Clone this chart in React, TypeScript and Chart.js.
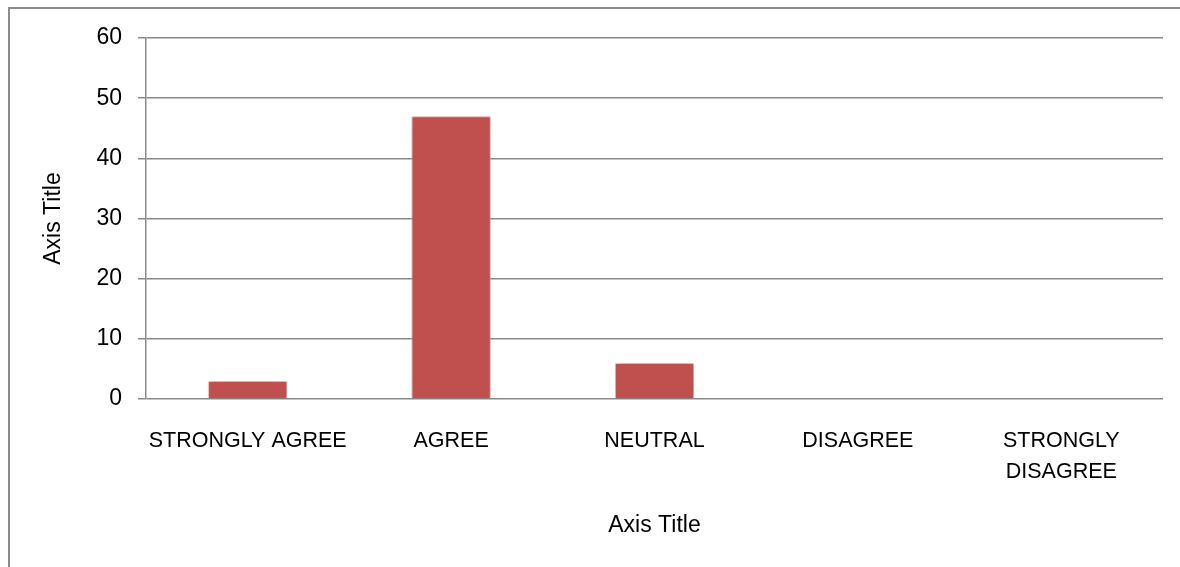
import React, { useEffect, useRef } from "react";
import { Chart, registerables } from "chart.js";

Chart.register(...registerables);

const categories: (string | string[])[] = [
  "STRONGLY AGREE",
  "AGREE",
  "NEUTRAL",
  "DISAGREE",
  ["STRONGLY", "DISAGREE"],
];
const values: number[] = [3, 47, 6, 0, 0];
const yTitle = "Axis Title";
const xTitle = "Axis Title";
const yMin = 0;
const yMax = 60;
const yStep = 10;

const FONT = "'Liberation Sans', Arial, sans-serif";

const framePlugin = {
  id: "frame",
  beforeDraw(chart: any) {
    const ctx = chart.ctx;
    ctx.save();
    ctx.fillStyle = "#ffffff";
    ctx.fillRect(0, 0, chart.width, chart.height);
    ctx.strokeStyle = "#8c8c8c";
    ctx.lineWidth = 2;
    ctx.beginPath();
    ctx.moveTo(9, chart.height + 5);
    ctx.lineTo(9, 8);
    ctx.lineTo(chart.width + 5, 8);
    ctx.stroke();
    ctx.restore();
  },
};

const shadowPlugin = {
  id: "barShadow",
  beforeDatasetDraw(chart: any) {
    const ctx = chart.ctx;
    ctx.save();
    ctx.shadowColor = "rgba(0,0,0,0.35)";
    ctx.shadowBlur = 6;
    ctx.shadowOffsetX = 1;
    ctx.shadowOffsetY = 0;
  },
  afterDatasetDraw(chart: any) {
    chart.ctx.restore();
  },
};

export default function App() {
  const ref = useRef<HTMLCanvasElement | null>(null);

  useEffect(() => {
    if (!ref.current) return;
    const chart = new Chart(ref.current, {
      type: "bar",
      data: {
        labels: categories,
        datasets: [
          {
            data: values,
            backgroundColor: "#C0504D",
            borderColor: "#f4dcdb",
            borderWidth: 1,
            barPercentage: 0.39,
            categoryPercentage: 1,
          },
        ],
      },
      options: {
        responsive: false,
        animation: false,
        layout: { padding: { top: 38, right: 17, left: 0, bottom: 0 } },
        plugins: {
          legend: { display: false },
          tooltip: { enabled: false },
        },
        scales: {
          x: {
            grid: { display: false, drawTicks: false, tickLength: 0 },
            border: { display: false },
            ticks: {
              color: "#000",
              font: { family: FONT, size: 21.5, lineHeight: 1.45 },
              padding: 26,
              maxRotation: 0,
              autoSkip: false,
            },
            title: {
              display: true,
              text: xTitle,
              color: "#000",
              font: { family: FONT, size: 23 },
              padding: { top: 0, bottom: 28 },
            },
            afterFit(scale: any) {
              scale.height = 168;
            },
          },
          y: {
            min: yMin,
            max: yMax,
            ticks: {
              stepSize: yStep,
              color: "#000",
              font: { family: FONT, size: 23 },
              padding: 16,
            },
            grid: {
              color: "#8a8a8a",
              lineWidth: 1.5,
              tickLength: 8,
              drawTicks: true,
            },
            border: { display: true, color: "#8a8a8a", width: 1.5 },
            title: {
              display: true,
              text: yTitle,
              color: "#000",
              font: { family: FONT, size: 23 },
              padding: { top: 40, bottom: 0 },
            },
            afterFit(scale: any) {
              scale.width = 146;
            },
          },
        },
      },
      plugins: [framePlugin, shadowPlugin],
    });
    return () => chart.destroy();
  }, []);

  return (
    <div style={{ position: "fixed", left: 0, top: 0, width: 1180, height: 567 }}>
      <canvas ref={ref} width={1180} height={567} style={{ display: "block" }} />
    </div>
  );
}
